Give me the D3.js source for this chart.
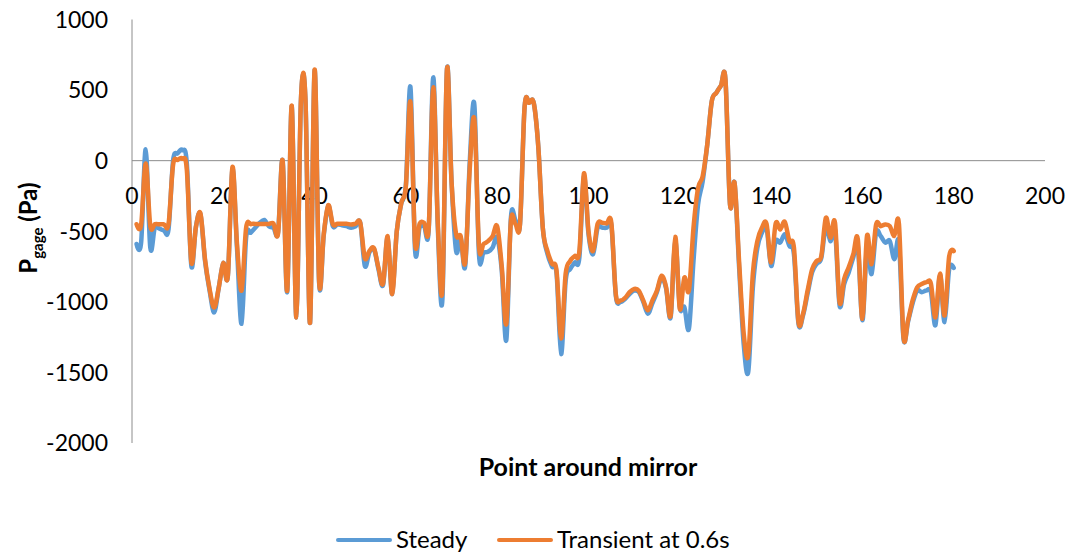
<!DOCTYPE html>
<html>
<head>
<meta charset="utf-8">
<script src="https://cdn.jsdelivr.net/npm/d3@7"></script>
<style>
  html, body { margin: 0; padding: 0; background: #fff; }
  svg { display: block; }
  text { font-family: Lato, "Open Sans", sans-serif; fill: #000; }
</style>
</head>
<body>
<svg id="chart" width="1070" height="555"></svg>
<script>
// Pressure at each point around the mirror (x = point number 1..180)
const pointIndex = d3.range(1, 181);

const steady = [
  -590, -580, 80, -615, -475, -482, -494, -487, 0, 52,
  75, -15, -745, -470, -380, -710, -920, -1075, -900, -725,
  -815, -60, -620, -1155, -545, -510, -475, -440, -420, -465,
  -475, -505, 0, -930, 385, -1110, 420, 425, -1150, 640,
  -870, -530, -320, -465, -452, -457, -464, -475, -464, -440,
  -745, -650, -625, -770, -880, -545, -945, -500, -300, -170,
  520, -630, -475, -465, -487, 590, -480, -980, 650, -150,
  -640, -545, -745, 0, 395, -660, -650, -645, -615, -545,
  -780, -1270, -405, -420, -447, 380, 410, 410, 100, -480,
  -660, -750, -800, -1370, -850, -768, -721, -686, -112, -520,
  -663, -475, -475, -475, -455, -960, -1000, -980, -945, -920,
  -930, -1000, -1084, -1010, -930, -830, -905, -1108, -569, -1037,
  -1037, -1190, -710, -311, -148, 110, 420, 480, 530, 575,
  -311, -159, -760, -1300, -1494, -900, -616, -510, -475, -745,
  -569, -580, -522, -604, -663, -1155, -1095, -940, -790, -730,
  -690, -460, -570, -490, -1025, -874, -792, -686, -604, -1131,
  -616, -803, -510, -534, -580, -569, -698, -580, -1260, -1140,
  -1010, -920, -932, -920, -930, -1166, -810, -1143, -770, -760
];

const transient = [
  -450, -455, -20, -460, -450, -450, -450, -450, -30, 5,
  15, -60, -720, -470, -375, -700, -910, -1040, -900, -725,
  -815, -45, -590, -920, -475, -450, -448, -448, -448, -448,
  -445, -515, 0, -920, 390, -1110, 425, 430, -1150, 645,
  -860, -520, -315, -450, -447, -447, -447, -452, -447, -440,
  -690, -640, -620, -760, -870, -535, -945, -500, -300, -180,
  415, -580, -447, -440, -475, 520, -450, -910, 650, -150,
  -520, -535, -720, -50, 290, -600, -590, -570, -535, -465,
  -750, -1155, -430, -450, -447, 380, 410, 410, 100, -480,
  -640, -730, -780, -1260, -800, -710, -675, -640, -90, -500,
  -640, -447, -440, -445, -440, -950, -990, -972, -932, -909,
  -920, -990, -1060, -990, -920, -815, -897, -1096, -539, -1049,
  -827, -920, -475, -194, -112, 110, 420, 480, 530, 575,
  -311, -159, -720, -1225, -1377, -800, -569, -475, -447, -721,
  -445, -487, -433, -569, -616, -1143, -1084, -920, -768, -710,
  -675, -405, -545, -440, -1002, -838, -756, -663, -557, -1120,
  -534, -733, -452, -464, -452, -464, -534, -447, -1248, -1131,
  -990, -897, -874, -862, -870, -1110, -800, -1096, -680, -640
];

const seriesNames = ["Steady", "Transient at 0.6s"];
const seriesColors = ["#5B9BD5", "#ED7D31"];
const xTicks = d3.range(0, 201, 20);
const yTicks = d3.range(-2000, 1001, 500);

const svg = d3.select("#chart");

const plot = { left: 132, right: 1045, top: 19.5, bottom: 443 };

const x = d3.scaleLinear().domain([0, 200]).range([plot.left, plot.right]);
const y = d3.scaleLinear().domain([-2000, 1000]).range([plot.bottom, plot.top]);

// Vertical value axis (left edge)
svg.append("line")
  .attr("x1", plot.left).attr("x2", plot.left)
  .attr("y1", plot.top).attr("y2", plot.bottom)
  .attr("stroke", "#8c8c8c").attr("stroke-width", 1);

// Horizontal axis crosses at zero
svg.append("line")
  .attr("x1", plot.left).attr("x2", plot.right)
  .attr("y1", y(0)).attr("y2", y(0))
  .attr("stroke", "#8c8c8c").attr("stroke-width", 1);

// Y tick labels
svg.append("g").selectAll("text")
  .data(yTicks)
  .join("text")
  .attr("x", 108)
  .attr("y", d => y(d))
  .attr("dy", "0.36em")
  .attr("text-anchor", "end")
  .attr("font-size", 23)
  .text(d => d);

// X tick labels, just under the zero line
svg.append("g").selectAll("text")
  .data(xTicks)
  .join("text")
  .attr("x", d => x(d))
  .attr("y", y(0) + 43)
  .attr("text-anchor", "middle")
  .attr("font-size", 23)
  .text(d => d);

// Axis titles
svg.append("text")
  .attr("x", 588)
  .attr("y", 476)
  .attr("text-anchor", "middle")
  .attr("font-size", 25)
  .attr("font-weight", "bold")
  .text("Point around mirror");

const yTitle = svg.append("text")
  .attr("transform", "translate(37,228) rotate(-90)")
  .attr("text-anchor", "middle")
  .attr("font-size", 24)
  .attr("font-weight", "bold");
yTitle.append("tspan").text("P");
yTitle.append("tspan").attr("font-size", 15).attr("dy", 6).text("gage");
yTitle.append("tspan").attr("dy", -6).text(" (Pa)");

// Smoothed series lines
const line = d3.line()
  .x((d, i) => x(pointIndex[i]))
  .y(d => y(d))
  .curve(d3.curveCardinal.tension(0));

[steady, transient].forEach((values, k) => {
  svg.append("path")
    .datum(values)
    .attr("fill", "none")
    .attr("stroke", seriesColors[k])
    .attr("stroke-width", 4.5)
    .attr("stroke-linejoin", "round")
    .attr("stroke-linecap", "round")
    .attr("d", line);
});

// Legend
const legendItems = [
  { name: seriesNames[0], color: seriesColors[0], x0: 338 },
  { name: seriesNames[1], color: seriesColors[1], x0: 499 }
];
const lg = svg.append("g").selectAll("g").data(legendItems).join("g");
lg.append("line")
  .attr("x1", d => d.x0).attr("x2", d => d.x0 + 52)
  .attr("y1", 540).attr("y2", 540)
  .attr("stroke", d => d.color).attr("stroke-width", 4)
  .attr("stroke-linecap", "round");
lg.append("text")
  .attr("x", d => d.x0 + 58)
  .attr("y", 548)
  .attr("font-size", 24)
  .text(d => d.name);
</script>
</body>
</html>
